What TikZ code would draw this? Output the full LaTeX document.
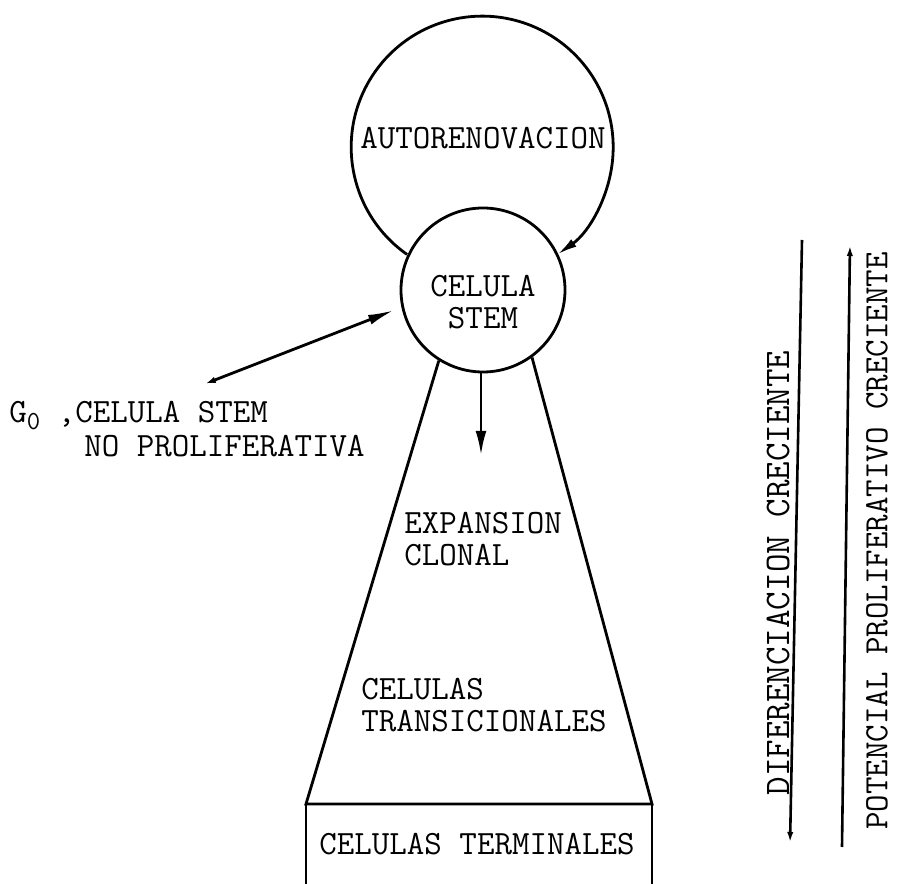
\documentclass[tikz,border=0pt]{standalone}
\usepackage{fontspec}
\usetikzlibrary{arrows.meta}
\newdimen\unitsize
\setlength{\unitsize}{1pt}

\begin{document}
\begin{tikzpicture}[x=\unitsize,y=\unitsize,line width=2.8pt,
  lbl/.style={font=\ttfamily\fontsize{34}{32}\selectfont,inner sep=0pt},
  tip/.style={-{Latex[length=#1,width=0.45*#1]}}]
\useasboundingbox (0,0) rectangle (898,884);
% the two circles
\node[circle,minimum size=262\unitsize,inner sep=0pt] (renew) at (483,738) {};
\node[circle,draw,minimum size=164\unitsize,inner sep=0pt] (stem) at (483,594) {};
\draw[tip=20pt] (renew.235) arc[start angle=235,end angle=-55,radius=131\unitsize];
\node[lbl] (autoren) at (483,746) {AUTORENOVACION};
\node[lbl,align=center] (stemtext) at (483,582) {CELULA\\STEM};
% G0 arrow
\coordinate (gzero) at (202,499);
\draw[{Latex[length=14pt,width=6pt]}-{Latex[length=26pt,width=10pt]},shorten >=8pt]
  (gzero) -- (stem.192);
\node[lbl,anchor=base west] (gzlabel) at (8,461)
  {G\raisebox{-7pt}{\fontsize{26}{26}\selectfont 0} ,CELULA STEM};
\node[lbl,anchor=base west] (nolabel) at (83,427) {NO PROLIFERATIVA};
% expansion
\coordinate (expand) at (481,429);
\draw[tip=24pt,line width=2.4pt] (stem.south -| expand) -- (expand);
\coordinate (bl) at (306,80);
\coordinate (br) at (652,80);
\draw (stem.238) -- (bl) -- (br) -- (stem.306);
\draw (bl) -- (bl |- 0,0) (br) -- (br |- 0,0);
\node[lbl,align=left,anchor=west] (clonal) at (403,345) {EXPANSION\\CLONAL};
\node[lbl,align=left,anchor=west] (transit) at (360,179) {CELULAS\\TRANSICIONALES};
\node[lbl] (terminal) at (477,40) {CELULAS TERMINALES};
% gradients
\foreach \ax/\ay/\bx/\by in {802/644/790/39,842/37/850/641}{
  \draw[tip=13pt,line width=2.6pt] (\ax,\ay) -- (\bx,\by);
}
\node[lbl,rotate=90,font=\ttfamily\fontsize{36}{32}\selectfont] (difer) at (778,311) {DIFERENCIACION CRECIENTE};
\node[lbl,rotate=90] (poten) at (877,343) {POTENCIAL PROLIFERATIVO CRECIENTE};
\end{tikzpicture}
\end{document}
